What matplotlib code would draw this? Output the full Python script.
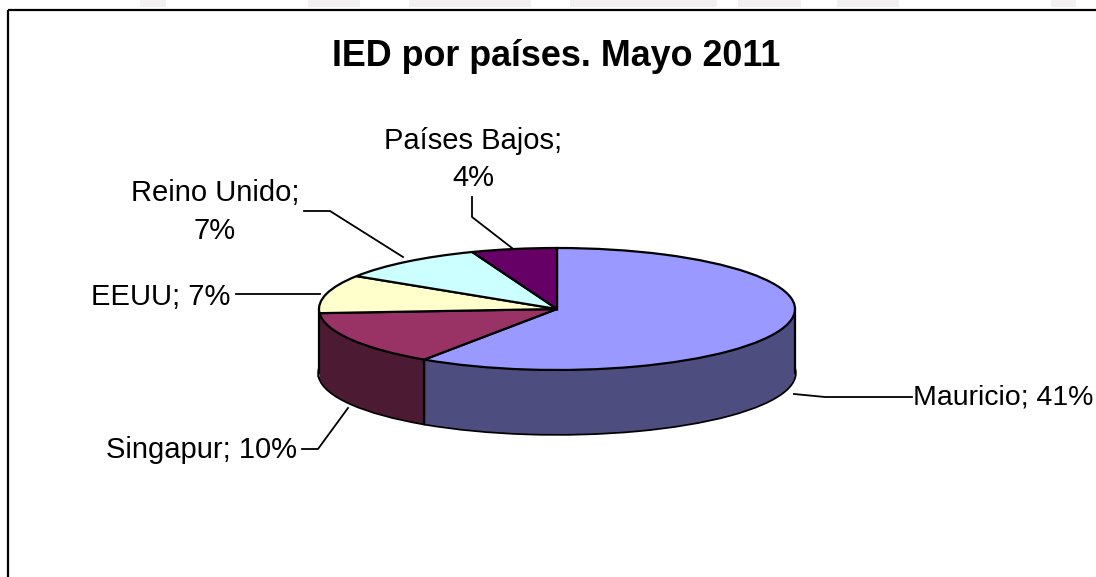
import math
import matplotlib
matplotlib.use("Agg")
import matplotlib.pyplot as plt
from matplotlib.patches import Rectangle

title = "IED por países. Mayo 2011"
countries = ["Mauricio", "Singapur", "EEUU", "Reino Unido", "Países Bajos"]
values = [41, 10, 7, 7, 4]
top_colors = ["#9999FF", "#993366", "#FFFFCC", "#CCFFFF", "#660066"]
side_colors = ["#4D4D80", "#4D1A33", "#808066", "#668080", "#330033"]
labels = ["Mauricio; 41%", "Singapur; 10%", "EEUU; 7%", "Reino Unido;\n7%", "Países Bajos;\n4%"]

W, H = 1096, 577
plt.rcParams["font.family"] = ["Liberation Sans", "DejaVu Sans"]
fig = plt.figure(figsize=(W / 100, H / 100), dpi=100, facecolor="white")
ax = fig.add_axes([0, 0, 1, 1])

# pixel coordinates: the pie is an ellipse in this stretched space
cx, cy, rx, ry, depth = 557, 309, 238, 61, 64

def px(x, y):
    return ((x - cx) / rx, (cy - y) / ry)

# bottom rim
ax.pie(values, colors=["none"] * 5, startangle=90, counterclock=False,
       center=(0, -depth / ry), radius=1,
       wedgeprops=dict(edgecolor="black", linewidth=2.5, zorder=0))
for d in range(depth, 0, -1):
    ax.pie(values, colors=side_colors, startangle=90, counterclock=False,
           center=(0, -d / ry), radius=1,
           wedgeprops=dict(edgecolor="none", linewidth=0, zorder=1))
top, _ = ax.pie(values, colors=top_colors, startangle=90, counterclock=False,
                center=(0, 0), radius=1,
                wedgeprops=dict(edgecolor="black", linewidth=1.6, zorder=3))

ax.set_aspect("auto")
ax.set_xlim((0 - cx) / rx, (W - cx) / rx)
ax.set_ylim((cy - H) / ry, cy / ry)
ax.set_frame_on(False)

# vertical side edges: both extremes and the visible slice boundary
join = math.cos(math.radians(top[0].theta1))
join_y = math.sin(math.radians(top[0].theta1))
for x, y in [(-1, 0), (1, 0), (join, join_y)]:
    ax.plot([x, x], [y, y - depth / ry], color="black", lw=1.6, zorder=2)

# faint watermark remnants along the top edge
for x0, x1 in [(140, 166), (308, 360), (409, 531), (570, 717), (738, 801), (837, 899), (1051, 1076)]:
    (a, b) = px(x0, 7)
    ax.add_patch(Rectangle((a, b), (x1 - x0) / rx, 8 / ry, facecolor="#F2F0F0",
                           edgecolor="none", zorder=0))

# chart frame
ax.add_patch(Rectangle(px(8, 9.5), (W + 20) / rx, -(H + 20) / ry, fill=False,
                       edgecolor="black", linewidth=1.6, zorder=6))

ax.text(*px(556, 57), title, fontsize=25.8, fontweight="bold", ha="center", va="center",
        color="black", zorder=7)

label_pos = [(913, 397, "left", 20.5), (201, 450, "center", 21), (161, 297, "center", 21),
             (215, 212, "center", 21), (473, 159.5, "center", 21)]
for t, (x, y, ha, size) in zip(labels, label_pos):
    ax.text(*px(x, y), t, fontsize=size, ha=ha, va="center", linespacing=1.43,
            color="black", zorder=7)

leaders = [[(794, 394), (825, 397), (912, 397)],
           [(348, 408), (318, 449), (302, 449)],
           [(320, 294), (236, 294)],
           [(403, 257), (330, 211), (304, 211)],
           [(512, 248), (472, 217), (472, 197)]]
for pts in leaders:
    xs, ys = zip(*[px(*p) for p in pts])
    ax.plot(xs, ys, color="black", lw=1.3, zorder=6)

fig.savefig("out.png", dpi=100, facecolor="white")
